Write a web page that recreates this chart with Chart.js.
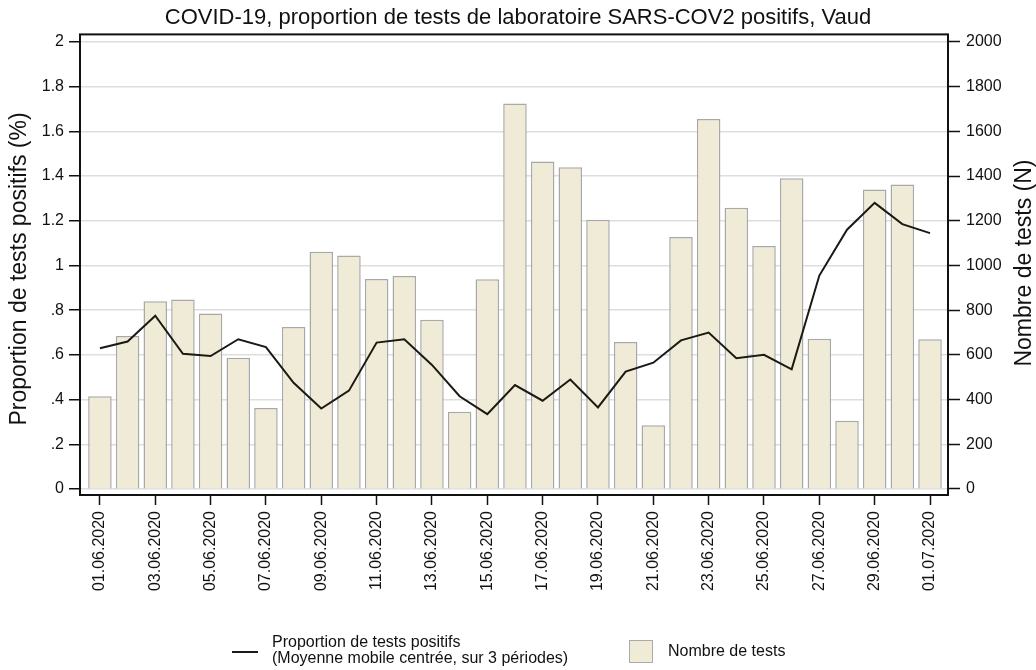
<!DOCTYPE html>
<html lang="fr">
<head>
<meta charset="utf-8">
<title>COVID-19 Vaud</title>
<script src="https://cdn.jsdelivr.net/npm/chart.js@4"></script>
<style>
  body { margin: 0; background: #fff; }
  #wrap { position: relative; width: 1036px; height: 670px; font-family: "Liberation Sans", Arial, sans-serif; color: #111; }
  #legend { position: absolute; left: 0; top: 634px; width: 1036px; height: 36px; font-size: 16px; }
  .lg-line { position: absolute; left: 232px; top: 17px; width: 26px; height: 2px; background: #1a1a14; }
  .lg-text1 { position: absolute; left: 272px; top: 0; line-height: 16px; }
  .lg-box { position: absolute; left: 629px; top: 6px; width: 22px; height: 21px; background: #f0ebd6; border: 1.5px solid #aaa; }
  .lg-text2 { position: absolute; left: 668px; top: 9px; line-height: 16px; }
</style>
</head>
<body>
<div id="wrap">
  <canvas id="chart" width="1036" height="670"></canvas>
  <div id="legend"></div>
</div>
<script>
// données
const dateLabels = [
  "01.06.2020", "02.06.2020", "03.06.2020", "04.06.2020", "05.06.2020", "06.06.2020",
  "07.06.2020", "08.06.2020", "09.06.2020", "10.06.2020", "11.06.2020", "12.06.2020",
  "13.06.2020", "14.06.2020", "15.06.2020", "16.06.2020", "17.06.2020", "18.06.2020",
  "19.06.2020", "20.06.2020", "21.06.2020", "22.06.2020", "23.06.2020", "24.06.2020",
  "25.06.2020", "26.06.2020", "27.06.2020", "28.06.2020", "29.06.2020", "30.06.2020",
  "01.07.2020",
];
const nombreTests = [
  415, 685, 840, 848, 785, 587, 362, 725, 1062, 1045, 940, 953, 757, 345, 938, 1725,
  1465, 1440, 1205, 658, 285, 1128, 1655, 1258, 1087, 1390, 672, 305, 1340, 1362, 670,
];
const proportionPositifs = [
  0.63, 0.66, 0.775, 0.605, 0.595, 0.67, 0.635, 0.475, 0.36, 0.44, 0.655, 0.67, 0.555,
  0.415, 0.335, 0.465, 0.395, 0.49, 0.365, 0.525, 0.565, 0.665, 0.70, 0.585, 0.60,
  0.535, 0.955, 1.16, 1.28, 1.185, 1.145,
];
const leftTicks = [0, 0.2, 0.4, 0.6, 0.8, 1, 1.2, 1.4, 1.6, 1.8, 2];
const rightTicks = [0, 200, 400, 600, 800, 1000, 1200, 1400, 1600, 1800, 2000];

const FONT = "'Liberation Sans', Arial, sans-serif";
const lineLabel = "Proportion de tests positifs";
const lineSub = "(Moyenne mobile centrée, sur 3 périodes)";
const barLabel = "Nombre de tests";

Chart.defaults.font.family = FONT;
Chart.defaults.color = "#111";

// cadre + titres des axes (l'axe de droite se lit de bas en haut)
const framePlugin = {
  id: "frame",
  afterDraw(chart) {
    const { ctx, chartArea: a } = chart;
    ctx.save();
    ctx.strokeStyle = "#111";
    ctx.lineWidth = 2;
    ctx.strokeRect(a.left, a.top, a.right - a.left, a.bottom - a.top);
    ctx.restore();

    const axisTitle = (text, x, y) => {
      ctx.save();
      ctx.fillStyle = "#111";
      ctx.font = "23px " + FONT;
      ctx.textAlign = "center";
      ctx.textBaseline = "middle";
      ctx.translate(x, y);
      ctx.rotate(-Math.PI / 2);
      ctx.fillText(text, 0, 0);
      ctx.restore();
    };
    axisTitle("Proportion de tests positifs (%)", 20, 269);
    axisTitle("Nombre de tests (N)", 1025, 263);
  },
};

const fmtLeft = (v) => {
  const s = (Math.round(v * 10) / 10).toString();
  return s.startsWith("0.") ? s.slice(1) : s;
};

new Chart(document.getElementById("chart").getContext("2d"), {
  type: "bar",
  data: {
    datasets: [
      {
        type: "line",
        label: lineLabel,
        data: proportionPositifs.map((v, i) => ({ x: i + 1, y: v })),
        yAxisID: "y",
        borderColor: "#1a1a14",
        borderWidth: 2,
        pointRadius: 0,
        tension: 0,
        order: 0,
      },
      {
        type: "bar",
        label: barLabel,
        data: nombreTests.map((v, i) => ({ x: i + 1, y: v })),
        yAxisID: "y2",
        backgroundColor: "#f0ebd6",
        borderColor: "#a8a8a8",
        borderWidth: 1.5,
        categoryPercentage: 1,
        barPercentage: 0.85,
        order: 1,
      },
    ],
  },
  options: {
    responsive: false,
    animation: false,
    layout: { padding: { left: 0, right: 0, top: 0, bottom: 70 } },
    plugins: {
      legend: { display: false },
      tooltip: { enabled: false },
      title: {
        display: true,
        text: "COVID-19, proportion de tests de laboratoire SARS-COV2 positifs, Vaud",
        font: { size: 22, weight: "normal" },
        color: "#111",
        padding: { top: 5, bottom: 3 },
      },
    },
    scales: {
      x: {
        type: "linear",
        min: 0.28,
        max: 31.65,
        offset: false,
        afterFit: (s) => { s.height = 105; },
        afterBuildTicks: (s) => {
          s.ticks = dateLabels.map((d, i) => ({ value: i + 1 })).filter((t) => t.value % 2 === 1);
        },
        ticks: {
          autoSkip: false,
          minRotation: 90,
          maxRotation: 90,
          padding: 6,
          font: { size: 16 },
          color: "#111",
          callback: (v) => dateLabels[v - 1],
        },
        grid: { offset: false, drawOnChartArea: false, tickLength: 10, tickColor: "#111", tickWidth: 1.5 },
        border: { display: false },
      },
      y: {
        position: "left",
        min: -0.027,
        max: 2.034,
        afterFit: (s) => { s.width = 80; },
        afterBuildTicks: (s) => { s.ticks = leftTicks.map((v) => ({ value: v })); },
        ticks: { padding: 5, font: { size: 16 }, color: "#111", callback: fmtLeft },
        grid: { color: "#dedede", lineWidth: 1.5, tickLength: 11, tickColor: "#111", tickWidth: 1.5 },
        border: { display: false },
      },
      y2: {
        position: "right",
        min: -27,
        max: 2034,
        afterFit: (s) => { s.width = 88; },
        afterBuildTicks: (s) => { s.ticks = rightTicks.map((v) => ({ value: v })); },
        ticks: { padding: 6, font: { size: 16 }, color: "#111", callback: (v) => String(v) },
        grid: { drawOnChartArea: false, tickLength: 12, tickColor: "#111", tickWidth: 1.5 },
        border: { display: false },
      },
    },
  },
  plugins: [framePlugin],
});

document.getElementById("legend").innerHTML = `
  <span class="lg-line"></span>
  <div class="lg-text1">${lineLabel}<br>${lineSub}</div>
  <span class="lg-box"></span>
  <div class="lg-text2">${barLabel}</div>
`;
</script>
</body>
</html>
